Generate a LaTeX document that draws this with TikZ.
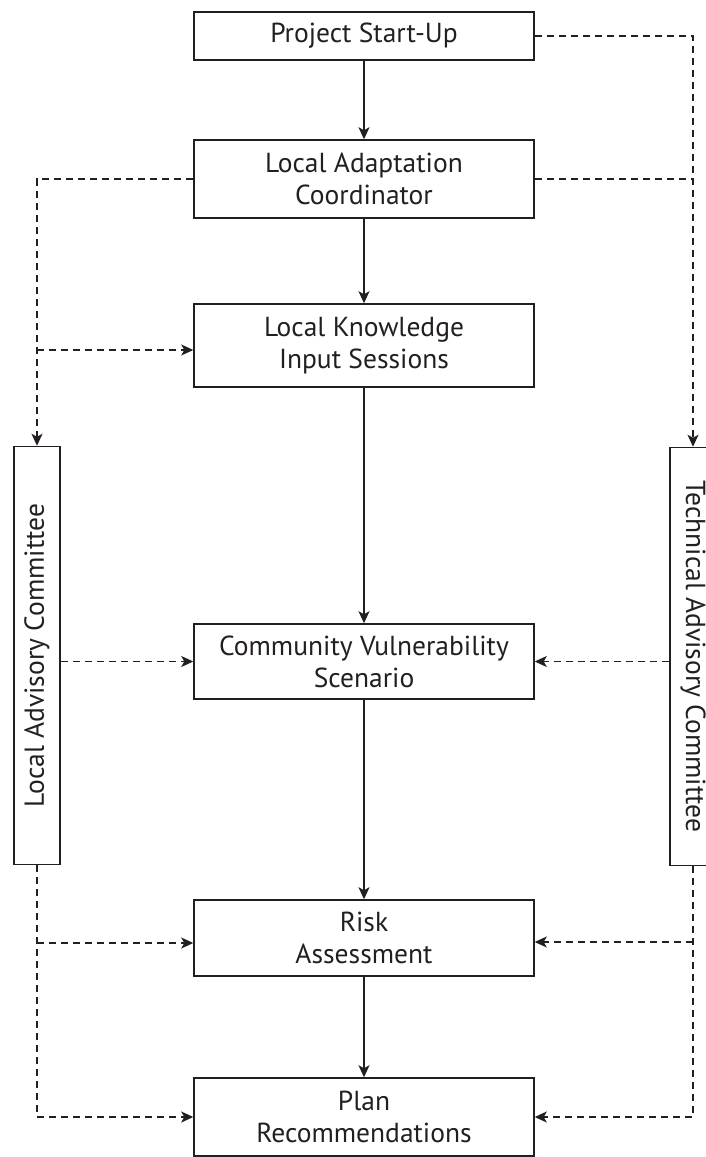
\documentclass[tikz,border=0pt]{standalone}
\usepackage{fontspec}
\setmainfont{PT Sans}
\usepackage{graphicx}
\usetikzlibrary{arrows.meta,positioning}

\definecolor{encre}{HTML}{231F20}

\tikzset{etape/.style = {draw=encre, text=encre, line width=1.5pt, minimum width=340pt,
                         inner sep=0pt, align=center, font=\fontsize{27.5}{32}\selectfont},
         comite/.style = {draw=encre, text=encre, line width=1.5pt, minimum width=46pt,
                          minimum height=418pt, inner sep=0pt, font=\fontsize{27.5}{32}\selectfont},
         fleche/.style = {encre, line width=1.3pt, -{Stealth[length=12pt,width=11pt,inset=3pt]}},
         lien/.style   = {encre, line width=1.3pt, dash pattern=on 7pt off 5pt},
         lienfl/.style = {lien, -{Stealth[length=12pt,width=11pt,inset=3pt]}}
        }

\begin{document}
\begin{tikzpicture}[x=1pt, y=1pt]
  \useasboundingbox (0,0) rectangle (706,-1157);

  % colonne centrale
  \node[etape, minimum height=48pt] (start) at (364,-36)     {Project Start-Up};
  \node[etape, minimum height=78pt] (coord) at (364,-179)    {Local Adaptation\\Coordinator};
  \node[etape, minimum height=83pt] (know)  at (364,-345.5)  {Local Knowledge\\Input Sessions};
  \node[etape, minimum height=75pt] (vuln)  at (364,-661.5)  {Community Vulnerability\\Scenario};
  \node[etape, minimum height=76pt] (risk)  at (364,-938)    {Risk\\Assessment};
  \node[etape, minimum height=78pt] (plan)  at (364,-1117)   {Plan\\Recommendations};

  % comites
  \node[comite] (lac) at (37,-655.5)  {\rotatebox{90}{Local Advisory Committee}};
  \node[comite] (tac) at (693,-656.5) {\rotatebox{-90}{Technical Advisory Committee}};

  \coordinate (gk) at (37,-350);
  \coordinate (gr) at (37,-943);
  \coordinate (dr) at (693,-942);

  \draw[fleche] (start) -- (coord);
  \draw[fleche] (coord) -- (know);
  \draw[fleche] (know)  -- (vuln);
  \draw[fleche] (vuln)  -- (risk);
  \draw[fleche] (risk)  -- (plan);

  % cote gauche
  \draw[lienfl] (coord.west) -| (lac.north);
  \draw[lienfl] (gk) -- (gk -| know.west);
  \draw[lienfl] (lac.east |- vuln.west) -- (vuln.west);
  \draw[lienfl] (lac.south) |- (plan.west);
  \draw[lienfl] (gr) -- (gr -| risk.west);

  % cote droit
  \draw[lienfl] (start.east) -| (tac.north);
  \draw[lien]   (coord.east) -- (coord.east -| tac.north);
  \draw[lienfl] (tac.west |- vuln.east) -- (vuln.east);
  \draw[lienfl] (tac.south) |- (plan.east);
  \draw[lienfl] (dr) -- (dr -| risk.east);
\end{tikzpicture}
\end{document}
